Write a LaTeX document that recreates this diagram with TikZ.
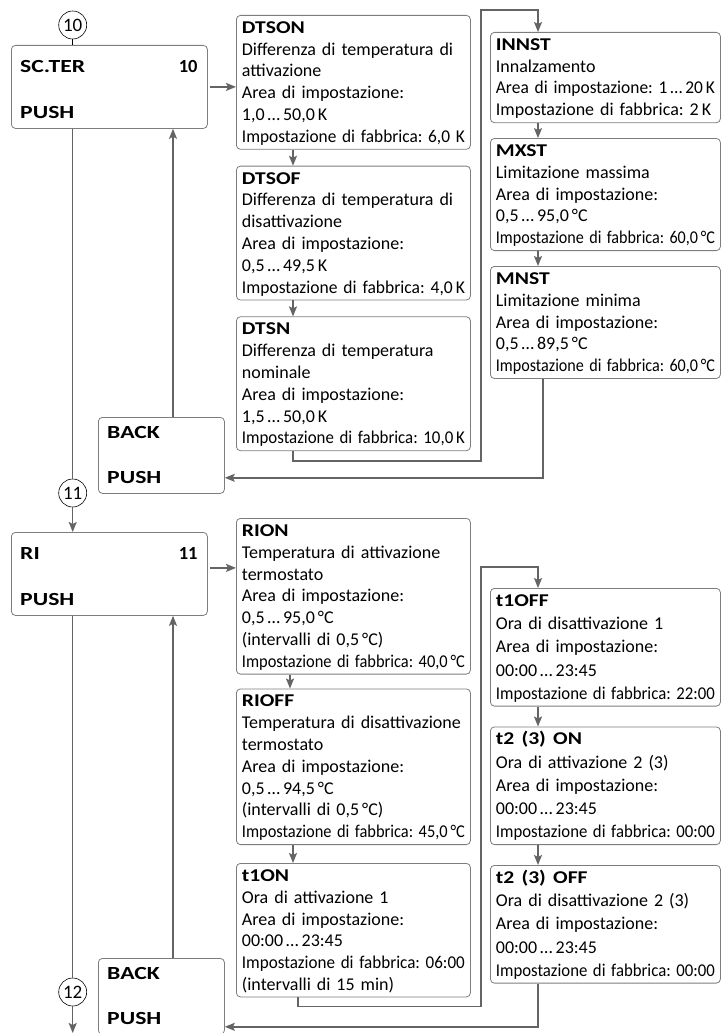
\documentclass[tikz,border=0pt]{standalone}
\usepackage{fontspec}
\setmainfont{Carlito}
\usepackage{graphicx}
\usetikzlibrary{arrows.meta, positioning, calc}
\definecolor{BoxGray} {RGB}{125,125,125}
\definecolor{FlowGray}{RGB}{100,100,100}
\setlength{\parindent}{0pt}
\frenchspacing
\newsavebox{\rowbox}
\newcommand{\fitrow}[1]{\sbox{\rowbox}{#1}%
  \ifdim\wd\rowbox>\hsize\resizebox{\hsize}{\height}{\usebox{\rowbox}}\else\usebox{\rowbox}\fi}
\newcommand{\upto}{\,\ldots\,}
\newcommand{\head}[1]{\rule{0pt}{14pt}\scalebox{1.2}[1]{\textbf{#1}}}
\newcommand{\keyw}[1]{\scalebox{1.28}[1]{#1}}
\begin{document}
\begin{tikzpicture}[x=1pt, y=-1pt,
  info/.style={draw=BoxGray, line width=0.8pt, rounded corners=4pt,
               anchor=north west, align=left, inner xsep=5.5pt, inner ysep=4pt,
               font=\fontsize{18}{21.8}\selectfont},
  infoL/.style={info, text width=223pt},
  infoR/.style={info, text width=219pt},
  infoRR/.style={infoR, font=\fontsize{18}{23.2}\selectfont},
  menu/.style={draw=BoxGray, line width=0.8pt, rounded corners=4pt,
               anchor=north west, minimum width=196pt, minimum height=83pt},
  back/.style={menu, minimum width=126pt, minimum height=76pt},
  key/.style={inner sep=0pt, font=\fontsize{18.5}{20}\selectfont\bfseries},
  num/.style={circle, draw=black, line width=0.6pt, minimum size=28pt,
              inner sep=0pt, font=\fontsize{19}{19}\selectfont},
  flow/.style={draw=FlowGray, line width=1.5pt,
               -{Stealth[length=10pt, width=8pt, inset=2pt]}},
  wire/.style={draw=FlowGray, line width=1.5pt}
]
  \useasboundingbox (0,0) rectangle (721,1033);

  %% Menu SC.TER
  \node[menu] (SCTER) at (11,45) {};
  \node[key, anchor=base west] (SCTERa) at ($(SCTER.north west)+(9,27.7)$) {\keyw{SC.TER}};
  \node[key, anchor=base east] (SCTERb) at ($(SCTER.north east)+(-10,27.7)$) {10};
  \node[key, anchor=base west] (SCTERc) at ($(SCTER.south west)+(9,-10)$) {\keyw{PUSH}};
  \node[num] (C10) at (72.7,25) {10};

  %% Column DTSON / DTSOF / DTSN
  \node[infoL] (DTSON) at (236,15)
    {\head{DTSON}\\Differenza di temperatura di\\attivazione\\Area di impostazione:\\
     1,0\upto50,0\,K\\\fitrow{Impostazione di fabbrica: 6,0 K}};
  \node[infoL, below=16pt of DTSON] (DTSOF)
    {\head{DTSOF}\\Differenza di temperatura di\\disattivazione\\Area di impostazione:\\
     0,5\upto49,5\,K\\\fitrow{Impostazione di fabbrica: 4,0\,K}};
  \node[infoL, below=16pt of DTSOF] (DTSN)
    {\head{DTSN}\\Differenza di temperatura\\nominale\\Area di impostazione:\\
     1,5\upto50,0\,K\\\fitrow{Impostazione di fabbrica: 10,0\,K}};

  %% Column INNST / MXST / MNST
  \node[infoR] (INNST) at (490,32)
    {\head{INNST}\\Innalzamento\\\fitrow{Area di impostazione: 1\upto20\,K}\\
     Impostazione di fabbrica: 2\,K};
  \node[infoR, below=15pt of INNST] (MXST)
    {\head{MXST}\\Limitazione massima\\Area di impostazione:\\
     0,5\upto95,0\,°C\\\fitrow{Impostazione di fabbrica: 60,0\,°C}};
  \node[infoR, below=15pt of MXST] (MNST)
    {\head{MNST}\\Limitazione minima\\Area di impostazione:\\
     0,5\upto89,5\,°C\\\fitrow{Impostazione di fabbrica: 60,0\,°C}};

  %% Back box 1
  \node[back] (BACKA) at (98,417) {};
  \node[key, anchor=base west] (BACKAa) at ($(BACKA.north west)+(9,21.5)$) {\keyw{BACK}};
  \node[key, anchor=base west] (BACKAb) at ($(BACKA.south west)+(9,-10)$) {\keyw{PUSH}};

  %% Menu RI
  \node[num] (C11) at (72.7,493) {11};
  \node[menu] (RI) at (11,532) {};
  \node[key, anchor=base west] (RIa) at ($(RI.north west)+(9,27.7)$) {\keyw{RI}};
  \node[key, anchor=base east] (RIb) at ($(RI.north east)+(-10,27.7)$) {11};
  \node[key, anchor=base west] (RIc) at ($(RI.south west)+(9,-10)$) {\keyw{PUSH}};

  %% Column RION / RIOFF / t1ON
  \node[infoL] (RION) at (236,518)
    {\head{RION}\\Temperatura di attivazione\\termostato\\Area di impostazione:\\
     0,5\upto95,0\,°C\\(intervalli di 0,5\,°C)\\\fitrow{Impostazione di fabbrica: 40,0\,°C}};
  \node[infoL, below=14pt of RION] (RIOFF)
    {\head{RIOFF}\\\fitrow{Temperatura di disattivazione}\\termostato\\Area di impostazione:\\
     0,5\upto94,5\,°C\\(intervalli di 0,5\,°C)\\\fitrow{Impostazione di fabbrica: 45,0\,°C}};
  \node[infoL, below=18pt of RIOFF] (TONA)
    {\head{t1ON}\\Ora di attivazione 1\\Area di impostazione:\\
     00:00\upto23:45\\\fitrow{Impostazione di fabbrica: 06:00}\\(intervalli di 15 min)};

  %% Column t1OFF / t2(3)ON / t2(3)OFF
  \node[infoRR] (TOFFA) at (490,588)
    {\head{t1OFF}\\Ora di disattivazione 1\\Area di impostazione:\\
     00:00\upto23:45\\\fitrow{Impostazione di fabbrica: 22:00}};
  \node[infoRR, below=20pt of TOFFA] (TONB)
    {\head{t2 (3) ON}\\Ora di attivazione 2 (3)\\Area di impostazione:\\
     00:00\upto23:45\\\fitrow{Impostazione di fabbrica: 00:00}};
  \node[infoRR, below=20pt of TONB] (TOFFB)
    {\head{t2 (3) OFF}\\Ora di disattivazione 2 (3)\\Area di impostazione:\\
     00:00\upto23:45\\\fitrow{Impostazione di fabbrica: 00:00}};

  %% Back box 2
  \node[back] (BACKB) at (98,958) {};
  \node[key, anchor=base west] (BACKBa) at ($(BACKB.north west)+(9,21.5)$) {\keyw{BACK}};
  \node[key, anchor=base west] (BACKBb) at ($(BACKB.south west)+(9,-10)$) {\keyw{PUSH}};
  \node[num] (C12) at (72.7,992) {12};
  \coordinate (EXIT) at (72.7,1033);

  %% Circle 10 -> SC.TER
  \draw[black, line width=0.6pt] (C10.south) -- (C10 |- SCTER.north);

  %% SC.TER -> DTSON
  \draw[flow] ([xshift=2pt]SCTER.east) -- (SCTER.east -| DTSON.west);

  %% SC.TER -> RI
  \draw[wire] (C10 |- SCTER.south) -- (C11.north);
  \draw[flow] (C11.south) -- (C11 |- RI.north);

  %% BACK -> SC.TER
  \coordinate (BAUP) at ([xshift=75pt]BACKA.north west);
  \draw[flow] (BAUP) -- (BAUP |- SCTER.south);

  %% DTSON -> DTSOF -> DTSN
  \draw[flow] ([xshift=57pt]DTSON.south west) -- ([xshift=57pt]DTSOF.north west);
  \draw[flow] ([xshift=57pt]DTSOF.south west) -- ([xshift=57pt]DTSN.north west);

  %% DTSN -> INNST
  \coordinate (JUMPA) at (481,10);
  \draw[flow] ([xshift=57pt]DTSN.south west) -- ++(0,10) -| (JUMPA)
    -| ([xshift=48pt]INNST.north west);

  %% INNST -> MXST -> MNST
  \draw[flow] ([xshift=48pt]INNST.south west) -- ([xshift=48pt]MXST.north west);
  \draw[flow] ([xshift=48pt]MXST.south west) -- ([xshift=48pt]MNST.north west);

  %% MNST -> BACK
  \draw[flow] ([xshift=53pt]MNST.south west) |- ([yshift=16pt]BACKA.south east);

  %% RI -> RION
  \coordinate (RIOUT) at ([xshift=2pt, yshift=6pt]RI.east);
  \draw[flow] (RIOUT) -- (RIOUT -| RION.west);

  %% RI -> exit
  \draw[wire] (C11 |- RI.south) -- (C12.north);
  \draw[flow] (C12.south) -- (EXIT);

  %% BACK -> RI
  \coordinate (BBUP) at ([xshift=75pt]BACKB.north west);
  \draw[flow] (BBUP) -- (BBUP |- RI.south);

  %% RION -> RIOFF -> t1ON
  \draw[flow] ([xshift=54pt]RION.south west) -- ([xshift=54pt]RIOFF.north west);
  \draw[flow] ([xshift=57pt]RIOFF.south west) -- ([xshift=57pt]TONA.north west);

  %% t1ON -> t1OFF
  \coordinate (JUMPB) at (481,567);
  \draw[flow] ([xshift=62pt]TONA.south west) -- ++(0,9) -| (JUMPB)
    -| ([xshift=48pt]TOFFA.north west);

  %% t1OFF -> t2(3)ON -> t2(3)OFF
  \draw[flow] ([xshift=48pt]TOFFA.south west) -- ([xshift=48pt]TONB.north west);
  \draw[flow] ([xshift=48pt]TONB.south west) -- ([xshift=48pt]TOFFB.north west);

  %% t2(3)OFF -> BACK
  \draw[flow] ([xshift=48pt]TOFFB.south west) |- ([yshift=8pt]BACKB.south east);
\end{tikzpicture}
\end{document}
